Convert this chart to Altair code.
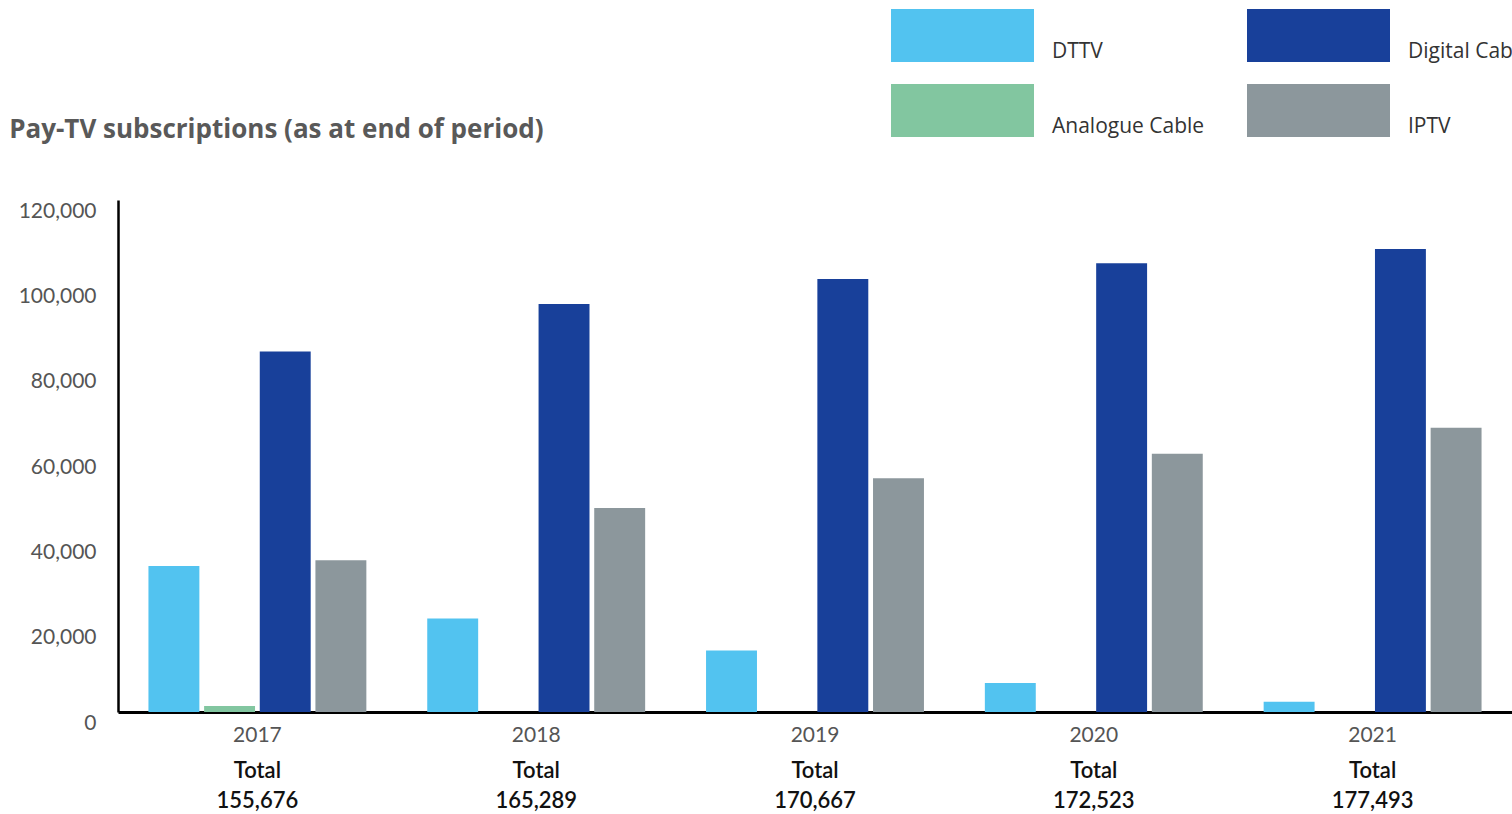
import altair as alt
import pandas as pd

# Pay-TV subscriptions by platform, end of each year
years = ["2017", "2018", "2019", "2020", "2021"]
series = ["DTTV", "Analogue Cable", "Digital Cable", "IPTV"]
dttv = [34200, 21900, 14400, 6800, 2400]
analogue_cable = [1400, 0, 0, 0, 0]
digital_cable = [84500, 95600, 101500, 105200, 108500]
iptv = [35576, 47789, 54767, 60523, 66593]
totals = [155676, 165289, 170667, 172523, 177493]

series_colors = ["#52C3F0", "#82C6A0", "#18409A", "#8C979C"]
y_ticks = [0, 20000, 40000, 60000, 80000, 100000, 120000]

rows = []
for i, yr in enumerate(years):
    for name, vals in zip(series, [dttv, analogue_cable, digital_cable, iptv]):
        rows.append({"year": yr, "series": name, "subs": vals[i]})
bars_df = pd.DataFrame(rows)
totals_df = pd.DataFrame({"year": years, "total": totals})

# wide, short rectangle used as the legend swatch (raised so the label sits below centre)
swatch = "M-1,-0.441L1,-0.441L1,0.301L-1,0.301Z"

x_enc = alt.X(
    "year:N",
    sort=years,
    scale=alt.Scale(paddingInner=0, paddingOuter=0),
    axis=alt.Axis(
        title=None, labelAngle=0, labelFont="Lato", labelFontSize=21,
        labelColor="#555555", labelPadding=12, ticks=False,
        domainColor="#000000", domainWidth=3, grid=False,
    ),
)

bars = alt.Chart(bars_df).mark_bar(strokeWidth=0).encode(
    x=x_enc,
    xOffset=alt.XOffset(
        "series:N",
        sort=series,
        scale=alt.Scale(domain=series, paddingInner=0.085, paddingOuter=0.547),
    ),
    y=alt.Y(
        "subs:Q",
        scale=alt.Scale(domain=[0, 120000], nice=False),
        axis=alt.Axis(
            title=None, values=y_ticks, format=",.0f", labelFont="Lato",
            labelFontSize=21, labelColor="#555555", labelPadding=22,
            labelOffset=11, ticks=False, grid=False,
            domainColor="#000000", domainWidth=2.5,
        ),
    ),
    color=alt.Color(
        "series:N",
        scale=alt.Scale(domain=series, range=series_colors),
        legend=alt.Legend(
            title=None, orient="none", legendX=773, legendY=-191,
            columns=2, symbolType=swatch, symbolSize=20449,
            symbolStrokeWidth=0, symbolOpacity=1,
            labelFont="Open Sans", labelFontSize=21, labelColor="#333333",
            labelBaseline="top", labelOffset=18, columnPadding=42,
            rowPadding=12, clipHeight=63, padding=0,
        ),
    ),
)

total_word = alt.Chart(totals_df).mark_text(
    text="Total", font="Lato", fontSize=22, fontWeight=600,
    color="#111111", baseline="alphabetic",
).encode(x=alt.X("year:N", sort=years), y=alt.value(578))

total_value = alt.Chart(totals_df).mark_text(
    font="Lato", fontSize=22, fontWeight=600,
    color="#111111", baseline="alphabetic",
).encode(
    x=alt.X("year:N", sort=years),
    y=alt.value(608),
    text=alt.Text("total:Q", format=","),
)

chart = alt.layer(bars, total_word, total_value).properties(
    width=1394,
    height=512,
    autosize=alt.AutoSizeParams(type="none"),
    padding={"left": 118, "top": 200, "right": 0, "bottom": 102},
    title=alt.TitleParams(
        text="Pay-TV subscriptions (as at end of period)",
        anchor="start", frame="bounds", orient="top",
        font="Open Sans", fontSize=26, fontWeight="bold", color="#595959",
        baseline="alphabetic", offset=-155, dx=-9,
    ),
).configure(background="#ffffff").configure_view(stroke=None)

chart.save("out.html", embed_options={"renderer": "svg", "actions": False})
